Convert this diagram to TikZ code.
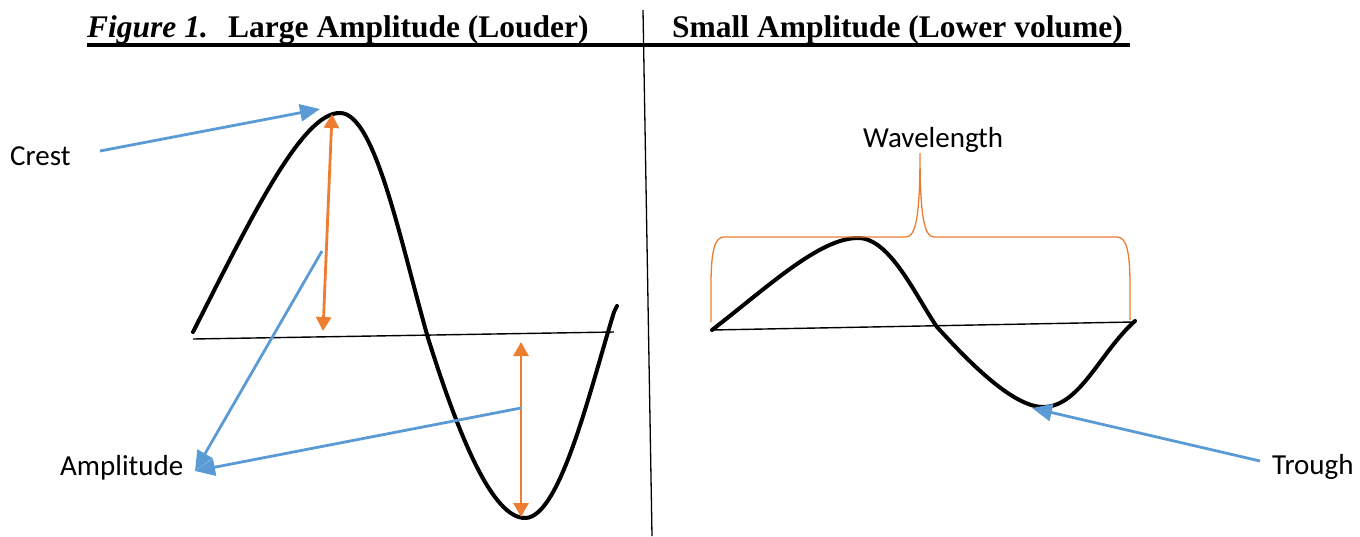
\documentclass[tikz,border=0pt]{standalone}
\usepackage{fontspec}
\usepackage{tikz}
\usetikzlibrary{arrows.meta}
\setmainfont{Carlito}
\newfontfamily\titlefont{Liberation Serif}
\definecolor{pointblue}{HTML}{5B9BD5}
\definecolor{amporange}{HTML}{ED7D31}
\tikzset{node distance=2.0cm, auto,
  label text/.style={anchor=base west, inner sep=0pt, font=\fontsize{29}{34}\selectfont},
  title text/.style={anchor=base west, inner sep=0pt, font=\titlefont\bfseries\fontsize{31.5}{36}\selectfont},
  wave/.style={line width=4pt, line cap=round, line join=round},
  axis/.style={line width=1.4pt},
  pointer/.style={pointblue, line width=2.8pt, -{Triangle[length=20pt,width=17pt]}},
  amp/.style={amporange, line width=2.8pt, {Triangle[length=14pt,width=15pt]}-{Triangle[length=14pt,width=15pt]}},
  brace/.style={amporange, line width=1.3pt}
}
\begin{document}
\begin{tikzpicture}[x=1pt, y=-1pt]
\useasboundingbox (0,0) rectangle (1360,536);

% titles
\node[title text] (fig) at (87,37) {\itshape Figure 1.};
\node[title text] (large) at (228,37) {Large Amplitude (Louder)};
\node[title text] (small) at (672,37) {Small Amplitude (Lower volume)};
\draw[line width=3.2pt] (87,45) -- (1130,45);
\draw[line width=1.3pt] (643,10) -- (652,536);

% left wave
\draw[axis] (193,339) -- (614,332);
\draw[wave] (193,332) .. controls (250,220) and (302,112) .. (340,113)
  .. controls (375,113) and (400,240) .. (428,338)
  .. controls (460,440) and (493,518) .. (525,518)
  .. controls (560,518) and (590,390) .. (614,312) -- (617,306);

% amplitude arrows
\coordinate (crest top) at (332,114);
\coordinate (crest base) at (323,331);
\coordinate (trough top) at (521,342);
\coordinate (trough base) at (521,517);
\draw[amp] (crest base) -- (crest top);
\draw[amp] (trough top) -- (trough base);

% labels left
\node[label text] (crest) at (10,165) {Crest};
\node[label text] (amplitude) at (60,475) {Amplitude};
\coordinate (crest tail) at (100,151);
\coordinate (crest tip) at (320,109);
\coordinate (amp tail1) at (322,251);
\coordinate (amp tail2) at (521,408);
\coordinate (amp tip) at (195,471);
\draw[pointer] (crest tail) -- (crest tip);
\draw[pointer] (amp tail1) -- (amp tip);
\draw[pointer] (amp tail2) -- (amp tip);

% right wave
\draw[axis] (712,330) -- (1133,322);
\draw[wave] (712,330) .. controls (770,285) and (820,238) .. (858,238)
  .. controls (890,238) and (915,295) .. (937,327)
  .. controls (960,352) and (1010,407) .. (1043,407)
  .. controls (1080,407) and (1100,352) .. (1135,321);

% wavelength brace
\draw[brace] (711,322) -- (711,285) .. controls (711,250) and (715,237) .. (724,237)
  -- (906,237) .. controls (916,237) and (920,215) .. (920,153)
  .. controls (920,215) and (924,237) .. (934,237)
  -- (1117,237) .. controls (1126,237) and (1130,250) .. (1130,285) -- (1130,320);
\node[label text] (wavelength) at (863,147) {Wavelength};

% trough
\node[label text] (trough) at (1272,474) {Trough};
\coordinate (trough tail) at (1260,461);
\coordinate (trough tip) at (1032,408);
\draw[pointer] (trough tail) -- (trough tip);
\end{tikzpicture}
\end{document}
